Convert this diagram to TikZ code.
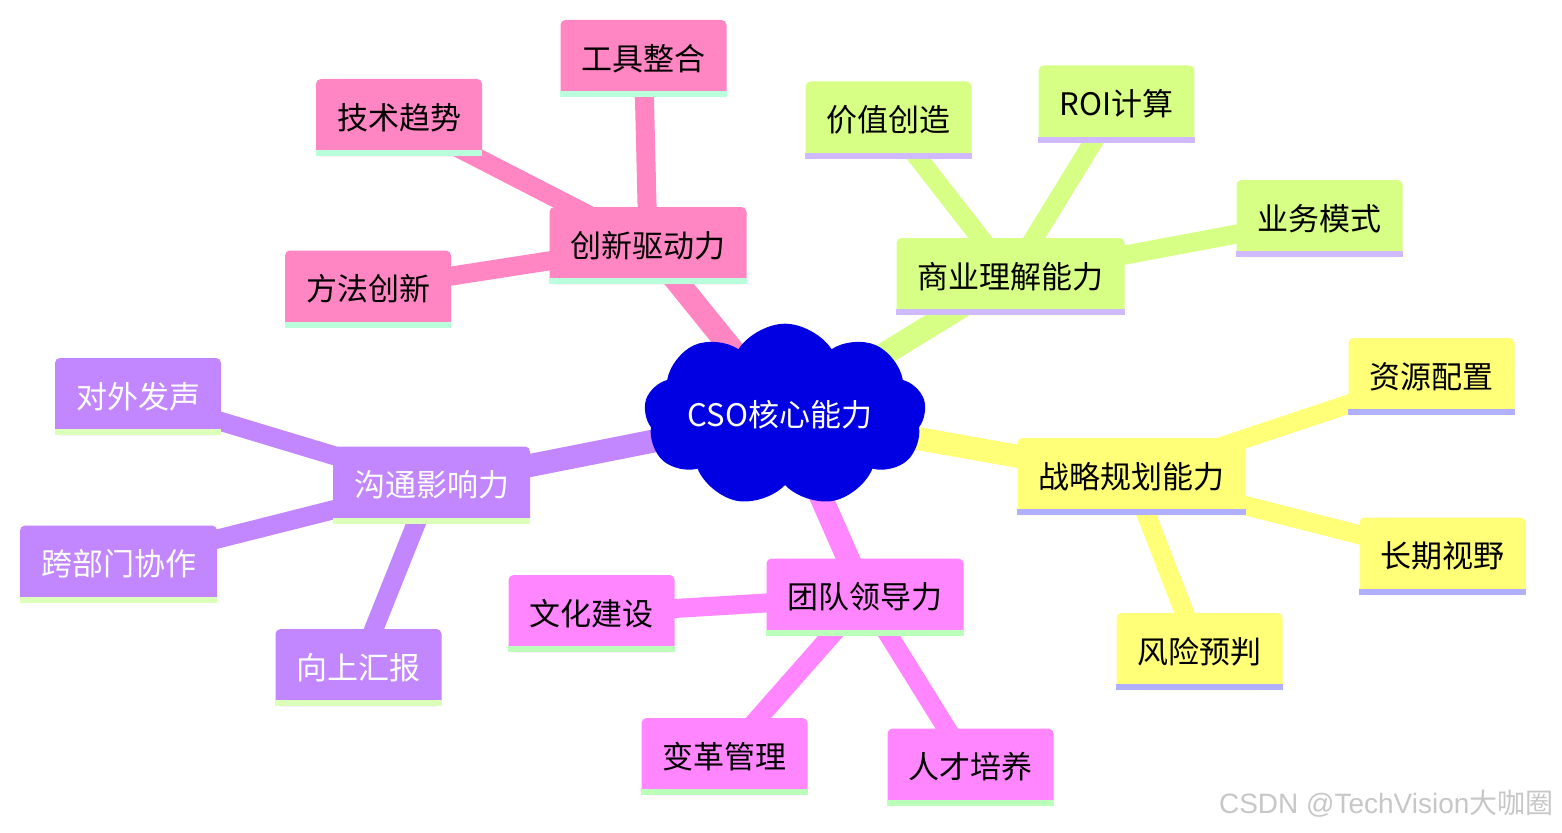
\documentclass[tikz,border=0pt]{standalone}
\usepackage{fontspec}
\setmainfont{Noto Sans CJK SC}
\newfontfamily\markfont{Liberation Sans}
\usetikzlibrary{shapes.symbols,backgrounds}

\definecolor{rootblue}{RGB}{0,0,226}
\definecolor{secY}{RGB}{255,255,120}
\definecolor{barY}{RGB}{176,176,255}
\definecolor{secG}{RGB}{215,255,134}
\definecolor{barG}{RGB}{208,186,255}
\definecolor{secP}{RGB}{194,134,255}
\definecolor{barP}{RGB}{220,255,186}
\definecolor{secM}{RGB}{255,134,255}
\definecolor{barM}{RGB}{186,255,186}
\definecolor{secK}{RGB}{255,134,194}
\definecolor{barK}{RGB}{186,255,220}

\begin{document}
\begin{tikzpicture}[x=1pt,y=-1pt,
  font=\fontsize{31}{36}\selectfont,
  core/.style={cloud,cloud puffs=9,cloud puff arc=115,aspect=1.7,fill=rootblue,text=white,
    minimum width=282pt,minimum height=166pt,inner sep=0pt},
  topic/.style={rectangle,rounded corners=5pt,fill=#1,minimum height=77pt,inner xsep=21pt,inner ysep=0pt},
  trunk/.style={draw=#1,line width=23pt},
  twig/.style={draw=#1,line width=19pt},
  wmark/.style={font=\fontsize{28}{32}\selectfont,text=black!22}]
  \useasboundingbox (0,0) rectangle (1562,832);
  % centre
  \node[core] (cso) at (785,415) {\hspace*{-10pt}CSO核心能力};
  % ---- 创新驱动力
  \node[topic=secK] (inno) at (648,245.5) {创新驱动力};
  \node[topic=secK] (tool) at (643.5,58.5) {工具整合};
  \node[topic=secK] (tech) at (399,117.5) {技术趋势};
  \node[topic=secK] (meth) at (368,289) {方法创新};
  % ---- 商业理解能力
  \node[topic=secG] (biz) at (1010.5,276.5) {商业理解能力};
  \node[topic=secG] (value) at (888.5,120) {价值创造};
  \node[topic=secG] (roi) at (1116.5,104) {ROI计算};
  \node[topic=secG] (model) at (1319.5,218.5) {业务模式};
  % ---- 战略规划能力
  \node[topic=secY] (plan) at (1131.5,476.5) {战略规划能力};
  \node[topic=secY] (res) at (1431.5,376.5) {资源配置};
  \node[topic=secY] (long) at (1442.5,556) {长期视野};
  \node[topic=secY] (risk) at (1199.5,651.5) {风险预判};
  % ---- 团队领导力
  \node[topic=secM] (team) at (865,597) {团队领导力};
  \node[topic=secM] (cult) at (591.5,613.5) {文化建设};
  \node[topic=secM] (chg) at (724.5,756.5) {变革管理};
  \node[topic=secM] (tal) at (970.5,767) {人才培养};
  % ---- 沟通影响力
  \begin{scope}[text=white]
    \node[topic=secP] (comm) at (431.5,485) {沟通影响力};
    \node[topic=secP] (voice) at (138,396.5) {对外发声};
    \node[topic=secP] (cross) at (118.5,564) {跨部门协作};
    \node[topic=secP] (up) at (358.5,667.5) {向上汇报};
  \end{scope}
  % underline bars
  \foreach \n/\c in {inno/barK,tool/barK,tech/barK,meth/barK,
                     biz/barG,value/barG,roi/barG,model/barG,
                     plan/barY,res/barY,long/barY,risk/barY,
                     team/barM,cult/barM,chg/barM,tal/barM,
                     comm/barP,voice/barP,cross/barP,up/barP}
    \fill[\c] (\n.south west) rectangle ([yshift=6pt]\n.south east);
  % branches
  \begin{scope}[on background layer]
    \foreach \b/\c in {inno/secK,biz/secG,plan/secY,team/secM,comm/secP}
      \draw[trunk=\c] (cso.center) -- (\b.center);
    \foreach \a/\b/\c in {inno/tool/secK,inno/tech/secK,inno/meth/secK,
                          biz/value/secG,biz/roi/secG,biz/model/secG,
                          plan/res/secY,plan/long/secY,plan/risk/secY,
                          team/cult/secM,team/chg/secM,team/tal/secM,
                          comm/voice/secP,comm/cross/secP,comm/up/secP}
      \draw[twig=\c] (\a.center) -- (\b.center);
  \end{scope}
  % watermark
  \node[wmark,anchor=east] (wm) at (1557,804) {\markfont CSDN @TechVision\normalfont 大咖圈};
\end{tikzpicture}
\end{document}
